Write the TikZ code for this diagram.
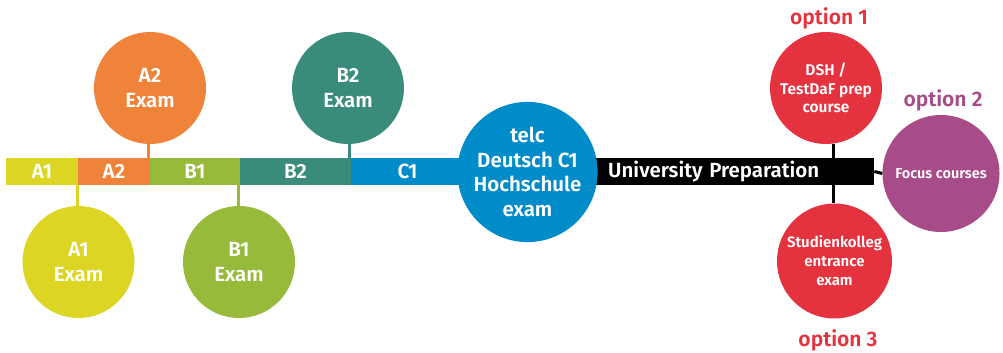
\documentclass[tikz,border=0pt]{standalone}
\usepackage{fontspec}
\setmainfont{Fira Sans}[BoldFont={Fira Sans SemiBold}]
\definecolor{cA1}{HTML}{DCD524}
\definecolor{cA2}{HTML}{F0833A}
\definecolor{cB1}{HTML}{97BA3B}
\definecolor{cB2}{HTML}{388C79}
\definecolor{cC1}{HTML}{008BC9}
\definecolor{cRed}{HTML}{E5323F}
\definecolor{cPur}{HTML}{A84B89}
\begin{document}
\begin{tikzpicture}[x=1pt,y=-1pt,
  big/.style={font=\bfseries\fontsize{20.5}{24.5}\selectfont},
  seg/.style={fill=#1, minimum height=27pt, inner sep=0pt, text=white, big},
  bub/.style={circle, fill=#1, inner sep=0pt, text=white, align=center},
  conn/.style={draw=#1, line width=3pt},
  opt/.style={text=#1, font=\bfseries\fontsize{21}{22}\selectfont}]
\useasboundingbox (0,0) rectangle (1003,353);
% bar segments
\node[seg=cA1, minimum width=72pt] (sa1) at (42,171.5) {A1};
\node[seg=cA2, minimum width=72pt] (sa2) at (114,171.5) {A2};
\node[seg=cB1, minimum width=90pt] (sb1) at (195,171.5) {B1};
\node[seg=cB2, minimum width=111pt] (sb2) at (295.5,171.5) {B2};
\node[seg=cC1, minimum width=113pt] (sc1) at (407.5,171.5) {C1};
\node[fill=black, text=white, big, minimum height=27pt, inner ysep=0pt, inner xsep=16pt,
      text width=250pt, align=left, anchor=west] (uni) at (592,171.5) {University Preparation};
% circles
\node[bub=cA2, minimum size=112pt, big] (ea2) at (150,88) {A2\\Exam};
\node[bub=cB2, minimum size=112pt, big] (eb2) at (348,88) {B2\\Exam};
\node[bub=cA1, minimum size=112pt, big] (ea1) at (78.5,262) {A1\\Exam};
\node[bub=cB1, minimum size=112pt, big] (eb1) at (239,262) {B1\\Exam};
\node[bub=cC1, minimum size=136pt, big] (telc) at (527.5,172) {telc\\Deutsch C1\\Hochschule\\exam};
\node[bub=cRed, minimum size=112pt, font=\bfseries\fontsize{15.5}{18.5}\selectfont] (dsh) at (826,88) {DSH /\\TestDaF prep\\course};
\node[bub=cPur, minimum size=117pt, font=\bfseries\fontsize{14.5}{18}\selectfont] (focus) at (941,173.5) {Focus courses};
\node[bub=cRed, minimum size=115pt, font=\bfseries\fontsize{15}{19}\selectfont] (stk) at (834.5,261) {Studienkolleg\\entrance\\exam};
% option labels
\node[opt=cRed] (o1) at (829,18) {option 1};
\node[opt=cPur] (o2) at (943,100) {option 2};
\node[opt=cRed] (o3) at (838,340) {option 3};
% connectors
\draw[conn=cA2] ([xshift=-2pt]ea2.south) -- ([xshift=-2pt]ea2.south |- sa2.north);
\draw[conn=cB2] ([xshift=1pt]eb2.south) -- ([xshift=1pt]eb2.south |- sb2.north);
\draw[conn=cA1] ([xshift=-1.5pt]ea1.north) -- ([xshift=-1.5pt]ea1.north |- sa1.south);
\draw[conn=cB1] ([xshift=-1pt]eb1.north) -- ([xshift=-1pt]eb1.north |- sb1.south);
\draw[conn=black] ([xshift=-1.5pt]stk.north |- dsh.south) -- ([xshift=-1.5pt]stk.north |- uni.north);
\draw[conn=black] ([xshift=-1.5pt]stk.north) -- ([xshift=-1.5pt]stk.north |- uni.south);
\draw[conn=black] (uni.east) -- (focus.west);
\end{tikzpicture}
\end{document}
